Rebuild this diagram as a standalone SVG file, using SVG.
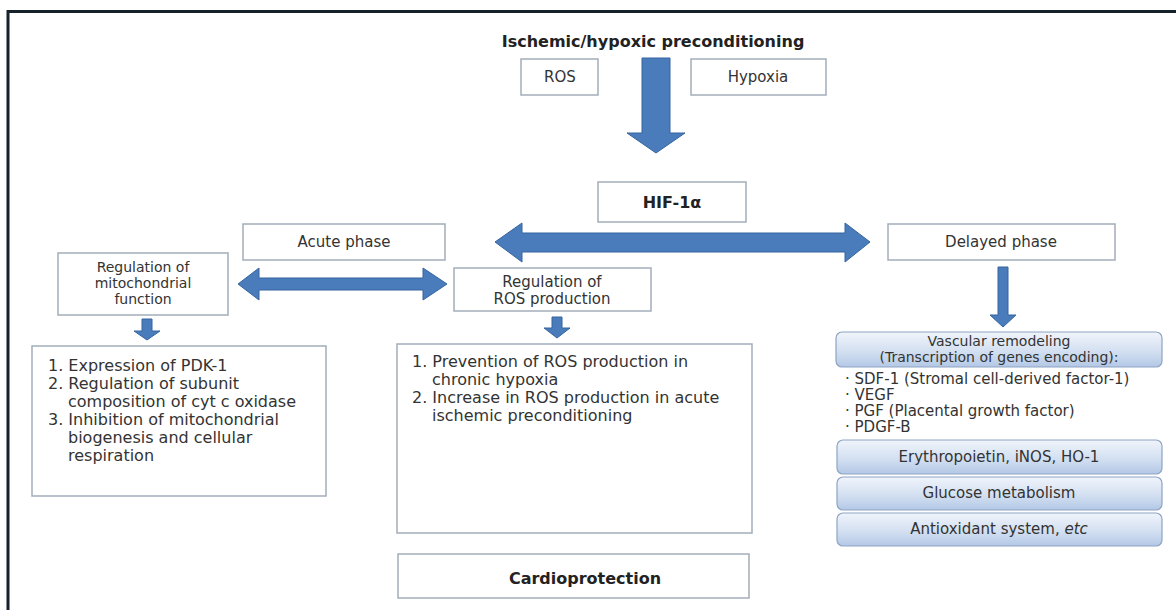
<svg xmlns="http://www.w3.org/2000/svg" width="1176" height="610" viewBox="0 0 1176 610">
<defs>
<linearGradient id="blueGrad" x1="0" y1="0" x2="0" y2="1">
<stop offset="0" stop-color="#f0f4fb"/>
<stop offset="0.55" stop-color="#d3e0f1"/>
<stop offset="1" stop-color="#b3c8e6"/>
</linearGradient>
<style>
.box{fill:#ffffff;stroke:#a3adb9;stroke-width:1.5}
.rbox{fill:url(#blueGrad);stroke:#8ea4c4;stroke-width:1.2}
.arrow{fill:#4a7cbc;stroke:#35659f;stroke-width:1}
text{font-family:"DejaVu Sans",Verdana,sans-serif;fill:#333333}
.lbl{font-size:15px;text-anchor:middle}
.sm{font-size:14px;text-anchor:middle}
.lst{font-size:16px}
.bul{font-size:15px}
.bold{font-weight:bold;font-size:16px;text-anchor:middle;fill:#222222}
</style>
</defs>
<rect x="0" y="0" width="1176" height="610" fill="#ffffff"/>
<path d="M8,610 V11.5 H1176" fill="none" stroke="#16212b" stroke-width="3"/>

<g id="connectors">
<polygon class="arrow" points="642,58 670,58 670,133 685,133 656,153 627,133 642,133"/>
<polygon class="arrow" points="495,242 522,223 522,233 845,233 845,223 870,242 845,262 845,252 522,252 522,262"/>
<polygon class="arrow" points="238,284 259,268 259,278 423,278 423,268 447,284 423,300 423,290 259,290 259,300"/>
<polygon class="arrow" points="142,319 152,319 152,331 160,331 147,340 134,331 142,331"/>
<polygon class="arrow" points="552,317 562,317 562,328 570,328 557,338 544,328 552,328"/>
<polygon class="arrow" points="998,267 1008,267 1008,315 1016,315 1003,327 990,315 998,315"/>
</g>

<g id="title">
<text class="bold" x="653" y="47">Ischemic/hypoxic preconditioning</text>
</g>
<g id="ros">
<rect class="box" x="521" y="59" width="77" height="36"/>
<text class="lbl" x="560" y="82">ROS</text>
</g>
<g id="hypoxia">
<rect class="box" x="691" y="59" width="135" height="36"/>
<text class="lbl" x="758" y="82">Hypoxia</text>
</g>
<g id="hif">
<rect class="box" x="598" y="182" width="148" height="40"/>
<text class="bold" x="672" y="208">HIF-1α</text>
</g>
<g id="acute">
<rect class="box" x="243" y="224" width="202" height="36"/>
<text class="lbl" x="344" y="247">Acute phase</text>
</g>
<g id="delayed">
<rect class="box" x="888" y="224" width="227" height="36"/>
<text class="lbl" x="1001" y="247">Delayed phase</text>
</g>
<g id="mito">
<rect class="box" x="58" y="253" width="170" height="62"/>
<text class="sm" x="143" y="272">Regulation of</text>
<text class="sm" x="143" y="288">mitochondrial</text>
<text class="sm" x="143" y="304">function</text>
</g>
<g id="rosreg">
<rect class="box" x="454" y="268" width="197" height="43"/>
<text class="lbl" x="552" y="287">Regulation of</text>
<text class="lbl" x="552" y="304">ROS production</text>
</g>
<g id="mitolist">
<rect class="box" x="32" y="346" width="294" height="150"/>
<text class="lst" x="48" y="371">1. Expression of PDK-1</text>
<text class="lst" x="48" y="389">2. Regulation of subunit</text>
<text class="lst" x="68" y="407">composition of cyt c oxidase</text>
<text class="lst" x="48" y="425">3. Inhibition of mitochondrial</text>
<text class="lst" x="68" y="443">biogenesis and cellular</text>
<text class="lst" x="68" y="461">respiration</text>
</g>
<g id="roslist">
<rect class="box" x="397" y="344" width="355" height="189"/>
<text class="lst" x="412" y="367">1. Prevention of ROS production in</text>
<text class="lst" x="432" y="385">chronic hypoxia</text>
<text class="lst" x="412" y="403">2. Increase in ROS production in acute</text>
<text class="lst" x="432" y="421">ischemic preconditioning</text>
</g>
<g id="cardio">
<rect class="box" x="398" y="554" width="351" height="44"/>
<text class="bold" x="585" y="584">Cardioprotection</text>
</g>
<g id="vascular">
<rect class="rbox" x="836" y="332" width="326" height="35" rx="6"/>
<text class="sm" x="999" y="346">Vascular remodeling</text>
<text class="sm" x="999" y="362">(Transcription of genes encoding):</text>
<text class="bul" x="845" y="384">· SDF-1 (Stromal cell-derived factor-1)</text>
<text class="bul" x="845" y="400">· VEGF</text>
<text class="bul" x="845" y="416">· PGF (Placental growth factor)</text>
<text class="bul" x="845" y="432">· PDGF-B</text>
</g>
<g id="erythro">
<rect class="rbox" x="837" y="440" width="325" height="34" rx="6"/>
<text class="lbl" x="999" y="462">Erythropoietin, iNOS, HO-1</text>
</g>
<g id="glucose">
<rect class="rbox" x="837" y="477" width="325" height="33" rx="6"/>
<text class="lbl" x="999" y="498">Glucose metabolism</text>
</g>
<g id="antiox">
<rect class="rbox" x="837" y="513" width="325" height="33" rx="6"/>
<text class="lbl" x="999" y="534">Antioxidant system, <tspan font-style="italic">etc</tspan></text>
</g>
</svg>
